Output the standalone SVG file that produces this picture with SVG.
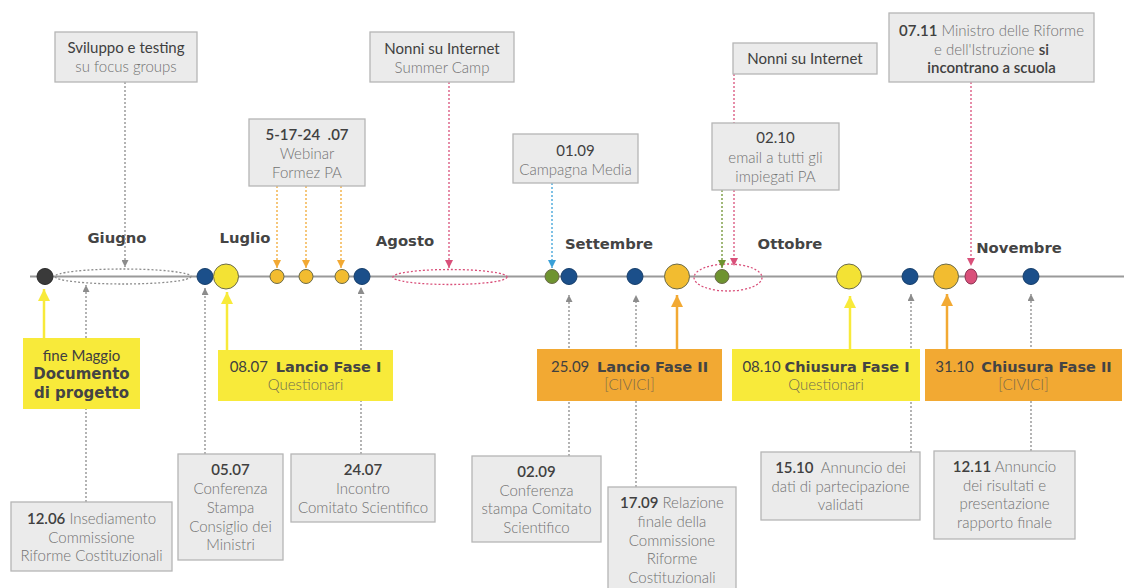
<svg xmlns="http://www.w3.org/2000/svg" width="1124" height="588" viewBox="0 0 1124 588">
<style>
text{font-family:Lato,"Liberation Sans",sans-serif;font-size:15px;text-anchor:middle;fill:#727272;font-weight:300}
.d{fill:#404040;font-weight:600}
.r{fill:#404040;font-weight:400}
.h{font-family:"DejaVu Sans",sans-serif;font-weight:bold;font-size:14.5px;fill:#444}
.m{font-family:"DejaVu Sans",sans-serif;font-weight:bold;font-size:14.8px;fill:#444}
.box{fill:#ebebeb;stroke:#b5b5b5;stroke-width:1.3}
.yb{fill:#f8ea3a}
.ob{fill:#f2a933}
.gl{stroke:#8c8c8c;stroke-width:1.3;stroke-dasharray:2 2;fill:none}
.pl{stroke:#d9507a;stroke-width:1.3;stroke-dasharray:2 2;fill:none}
.ol{stroke:#f2a933;stroke-width:1.3;stroke-dasharray:2 2;fill:none}
.bl{stroke:#3aa0d8;stroke-width:1.3;stroke-dasharray:2 2;fill:none}
.grl{stroke:#6e9330;stroke-width:1.3;stroke-dasharray:2 2;fill:none}
.ya{stroke:#f8ea3a;stroke-width:2.5;fill:none}
.oa{stroke:#f2a933;stroke-width:2.5;fill:none}
.c{stroke:#6b6b4a;stroke-width:1}
</style>
<defs>
<marker id="mg" viewBox="0 0 10 10" refX="10" refY="5" markerWidth="7" markerHeight="7" markerUnits="userSpaceOnUse" orient="auto"><path d="M0,0L10,5L0,10z" fill="#8c8c8c"/></marker>
<marker id="mp" viewBox="0 0 10 10" refX="10" refY="5" markerWidth="8" markerHeight="8" markerUnits="userSpaceOnUse" orient="auto"><path d="M0,0L10,5L0,10z" fill="#d9507a"/></marker>
<marker id="mo" viewBox="0 0 10 10" refX="10" refY="5" markerWidth="8" markerHeight="8" markerUnits="userSpaceOnUse" orient="auto"><path d="M0,0L10,5L0,10z" fill="#f2a933"/></marker>
<marker id="mb" viewBox="0 0 10 10" refX="10" refY="5" markerWidth="8" markerHeight="8" markerUnits="userSpaceOnUse" orient="auto"><path d="M0,0L10,5L0,10z" fill="#3aa0d8"/></marker>
<marker id="mgr" viewBox="0 0 10 10" refX="10" refY="5" markerWidth="8" markerHeight="8" markerUnits="userSpaceOnUse" orient="auto"><path d="M0,0L10,5L0,10z" fill="#6e9330"/></marker>
<marker id="my" viewBox="0 0 10 10" refX="10" refY="5" markerWidth="12" markerHeight="12" markerUnits="userSpaceOnUse" orient="auto"><path d="M0,0L10,5L0,10z" fill="#f8ea3a"/></marker>
<marker id="moa" viewBox="0 0 10 10" refX="10" refY="5" markerWidth="12" markerHeight="12" markerUnits="userSpaceOnUse" orient="auto"><path d="M0,0L10,5L0,10z" fill="#f2a933"/></marker>
</defs>
<rect width="1124" height="588" fill="#fff"/>

<g id="timeline">
<line x1="30" y1="276.5" x2="1124" y2="276.5" stroke="#9a9a9a" stroke-width="2"/>
<ellipse cx="123" cy="276.5" rx="68" ry="7.5" class="gl"/>
<ellipse cx="450" cy="277" rx="57" ry="7.5" class="pl"/>
<ellipse cx="728" cy="277.5" rx="34" ry="13.5" class="pl"/>
</g>

<g id="months">
<text class="m" x="117" y="243">Giugno</text>
<text class="m" x="245" y="243">Luglio</text>
<text class="m" x="405" y="246">Agosto</text>
<text class="m" x="609" y="249">Settembre</text>
<text class="m" x="790" y="249">Ottobre</text>
<text class="m" x="1019" y="253">Novembre</text>
</g>

<g id="connectors">
<line x1="125" y1="82" x2="125" y2="267" class="gl" marker-end="url(#mg)"/>
<line x1="277" y1="186" x2="277" y2="268" class="ol" marker-end="url(#mo)"/>
<line x1="306" y1="186" x2="306" y2="268" class="ol" marker-end="url(#mo)"/>
<line x1="341" y1="186" x2="341" y2="268" class="ol" marker-end="url(#mo)"/>
<line x1="449" y1="82" x2="449" y2="268" class="pl" marker-end="url(#mp)"/>
<line x1="552" y1="183" x2="552" y2="268" class="bl" marker-end="url(#mb)"/>
<line x1="734" y1="74" x2="734" y2="266" class="pl" marker-end="url(#mp)"/>
<line x1="722" y1="190" x2="722" y2="268" class="grl" marker-end="url(#mgr)"/>
<line x1="971" y1="82" x2="971" y2="266" class="pl" marker-end="url(#mp)"/>
<line x1="44" y1="338" x2="44" y2="289" class="ya" marker-end="url(#my)"/>
<line x1="227" y1="350" x2="227" y2="292" class="ya" marker-end="url(#my)"/>
<line x1="677" y1="349" x2="677" y2="295" class="oa" marker-end="url(#moa)"/>
<line x1="850" y1="349" x2="850" y2="296" class="ya" marker-end="url(#my)"/>
<line x1="947" y1="349" x2="947" y2="294" class="oa" marker-end="url(#moa)"/>
<line x1="86" y1="502" x2="86" y2="285" class="gl" marker-end="url(#mg)"/>
<line x1="205" y1="454" x2="205" y2="288" class="gl" marker-end="url(#mg)"/>
<line x1="361" y1="454" x2="361" y2="287" class="gl" marker-end="url(#mg)"/>
<line x1="569" y1="456" x2="569" y2="295" class="gl" marker-end="url(#mg)"/>
<line x1="636" y1="487" x2="636" y2="295" class="gl" marker-end="url(#mg)"/>
<line x1="911" y1="452" x2="911" y2="294" class="gl" marker-end="url(#mg)"/>
<line x1="1031" y1="451" x2="1031" y2="294" class="gl" marker-end="url(#mg)"/>
</g>

<g id="dots">
<circle cx="45" cy="276.5" r="8" fill="#3a3a3a" stroke="#2a2a2a"/>
<circle cx="205" cy="276.5" r="8" fill="#1b4f8a" stroke="#163e6b"/>
<circle cx="226" cy="276.5" r="12.5" fill="#f3e234" class="c"/>
<circle cx="277" cy="276.5" r="7" fill="#f2bc30" class="c"/>
<circle cx="306" cy="276.5" r="7" fill="#f2bc30" class="c"/>
<circle cx="342" cy="276.5" r="7" fill="#f2bc30" class="c"/>
<circle cx="362" cy="276.5" r="8" fill="#1b4f8a" stroke="#163e6b"/>
<circle cx="552" cy="276.5" r="7" fill="#6e9330" class="c"/>
<circle cx="569" cy="276.5" r="8" fill="#1b4f8a" stroke="#163e6b"/>
<circle cx="635" cy="276.5" r="8" fill="#1b4f8a" stroke="#163e6b"/>
<circle cx="677" cy="276.5" r="12.5" fill="#f2bc30" class="c"/>
<circle cx="722" cy="276.5" r="7" fill="#6e9330" class="c"/>
<circle cx="849" cy="276.5" r="12.5" fill="#f3e234" class="c"/>
<circle cx="910" cy="276.5" r="8" fill="#1b4f8a" stroke="#163e6b"/>
<circle cx="946" cy="276.5" r="12.5" fill="#f2bc30" class="c"/>
<ellipse cx="971" cy="276.5" rx="6" ry="7.5" fill="#d9507a" stroke="#8a3050"/>
<circle cx="1031" cy="276.5" r="8" fill="#1b4f8a" stroke="#163e6b"/>
</g>

<g id="n-sviluppo"><rect x="55" y="32" width="142" height="50" class="box"/>
<text x="126" y="53" class="r">Sviluppo e testing</text><text x="126" y="72">su focus groups</text></g>

<g id="n-webinar"><rect x="249" y="119" width="116" height="67" class="box"/>
<text x="307" y="140" class="d" xml:space="preserve">5-17-24  .07</text><text x="307" y="159">Webinar</text><text x="307" y="178">Formez PA</text></g>

<g id="n-summer"><rect x="370" y="32" width="144" height="50" class="box"/>
<text x="442" y="54" class="r">Nonni su Internet</text><text x="442" y="73">Summer Camp</text></g>

<g id="n-0109"><rect x="513" y="134" width="125" height="49" class="box"/>
<text x="575.5" y="156" class="r">01.09</text><text x="575.5" y="175">Campagna Media</text></g>

<g id="n-nonni"><rect x="733" y="43" width="144" height="31" class="box"/>
<text x="805" y="64" class="r">Nonni su Internet</text></g>

<g id="n-0210"><rect x="712" y="123" width="127" height="67" class="box"/>
<text x="775.5" y="143" class="r">02.10</text><text x="775.5" y="163">email a tutti gli</text><text x="775.5" y="182">impiegati PA</text></g>

<g id="n-0711"><rect x="889" y="13" width="205" height="69" class="box"/>
<text x="991.5" y="36"><tspan class="d">07.11</tspan> Ministro delle Riforme</text>
<text x="991.5" y="55">e dell'Istruzione <tspan class="d">si</tspan></text>
<text x="991.5" y="73" class="d">incontrano a scuola</text></g>

<g id="n-maggio"><rect x="23" y="338" width="117" height="71" class="yb"/>
<text x="81.5" y="361" class="r">fine Maggio</text>
<text x="81.5" y="379" class="h" style="font-size:15px">Documento</text>
<text x="81.5" y="398" class="h" style="font-size:15px">di progetto</text></g>

<g id="n-1206"><rect x="11" y="502" width="161" height="69" class="box"/>
<text x="91.5" y="524"><tspan class="d">12.06</tspan> Insediamento</text>
<text x="91.5" y="543">Commissione</text><text x="91.5" y="561">Riforme Costituzionali</text></g>

<g id="n-0507"><rect x="178" y="454" width="105" height="106" class="box"/>
<text x="230.5" y="475" class="d">05.07</text><text x="230.5" y="494">Conferenza</text><text x="230.5" y="513">Stampa</text><text x="230.5" y="532">Consiglio dei</text><text x="230.5" y="550">Ministri</text></g>

<g id="n-0807"><rect x="218" y="350" width="175" height="51" class="yb"/>
<text x="305.5" y="372" xml:space="preserve"><tspan class="r">08.07  </tspan><tspan class="h">Lancio Fase I</tspan></text>
<text x="305.5" y="390" style="fill:#6f6c50">Questionari</text></g>

<g id="n-2407"><rect x="291" y="454" width="144" height="68" class="box"/>
<text x="363" y="475" class="d">24.07</text><text x="363" y="494">Incontro</text><text x="363" y="513">Comitato Scientifico</text></g>

<g id="n-0209"><rect x="472" y="456" width="129" height="86" class="box"/>
<text x="536.5" y="477" class="d">02.09</text><text x="536.5" y="496">Conferenza</text><text x="536.5" y="514">stampa Comitato</text><text x="536.5" y="533">Scientifico</text></g>

<g id="n-1709"><rect x="608" y="487" width="128" height="110" class="box"/>
<text x="672" y="508"><tspan class="d">17.09</tspan> Relazione</text><text x="672" y="527">finale della</text><text x="672" y="546">Commissione</text><text x="672" y="564">Riforme</text><text x="672" y="583">Costituzionali</text></g>

<g id="n-2509"><rect x="537" y="349" width="185" height="52" class="ob"/>
<text x="629.5" y="372" xml:space="preserve"><tspan class="r">25.09  </tspan><tspan class="h">Lancio Fase II</tspan></text>
<text x="629.5" y="390" style="fill:#7d6a4a">[CIVICI]</text></g>

<g id="n-0810"><rect x="732" y="349" width="188" height="52" class="yb"/>
<text x="826" y="372" xml:space="preserve"><tspan class="r">08.10 </tspan><tspan class="h">Chiusura Fase I</tspan></text>
<text x="826" y="390" style="fill:#6f6c50">Questionari</text></g>

<g id="n-3110"><rect x="925" y="349" width="197" height="52" class="ob"/>
<text x="1023.5" y="372" xml:space="preserve"><tspan class="r">31.10  </tspan><tspan class="h">Chiusura Fase II</tspan></text>
<text x="1023.5" y="390" style="fill:#7d6a4a">[CIVICI]</text></g>

<g id="n-1510"><rect x="761" y="452" width="159" height="68" class="box"/>
<text x="840.5" y="473" xml:space="preserve"><tspan class="d">15.10 </tspan> Annuncio dei</text><text x="840.5" y="492">dati di partecipazione</text><text x="840.5" y="510">validati</text></g>

<g id="n-1211"><rect x="934" y="451" width="141" height="88" class="box"/>
<text x="1004.5" y="472"><tspan class="d">12.11</tspan> Annuncio</text><text x="1004.5" y="491">dei risultati e</text><text x="1004.5" y="509">presentazione</text><text x="1004.5" y="528">rapporto finale</text></g>
</svg>
